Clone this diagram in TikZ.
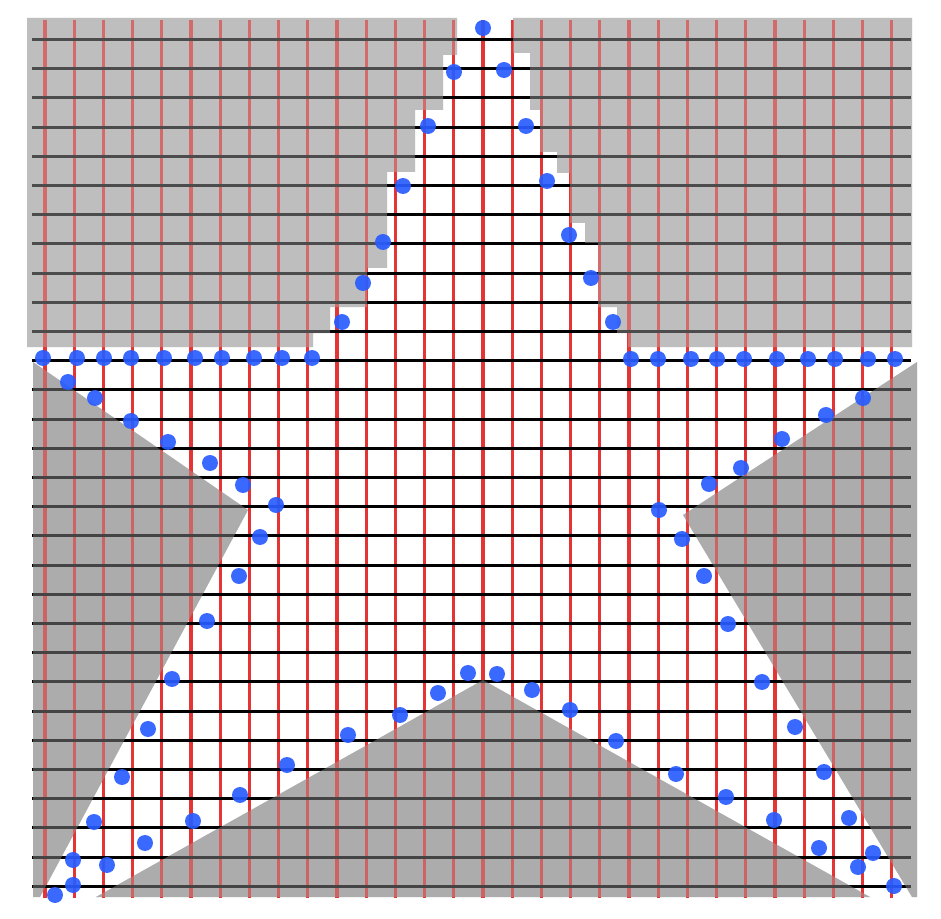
\documentclass[tikz,border=0pt]{standalone}
\usepackage{xcolor}
\usepackage{tikz}

\definecolor{upgray}{RGB}{190,190,190}
\definecolor{lowgray}{RGB}{172,172,172}
\definecolor{gridred}{RGB}{228,52,52}
\definecolor{dotblue}{RGB}{40,92,255}

% ground outside the star, in pixel units
\def\topleft{(27,18) -- (457,18) -- (457,55) -- (443,55) -- (443,110) -- (415,110) -- (415,172) -- (387,172) -- (387,268) -- (367,268) -- (367,307) -- (330,307) -- (330,333) -- (313,333) -- (313,347) -- (27,347) -- cycle}
\def\topright{(513,18) -- (912,18) -- (912,347) -- (628,347) -- (628,333) -- (617,333) -- (617,307) -- (598,307) -- (598,243) -- (585,243) -- (585,223) -- (570,223) -- (570,173) -- (557,173) -- (557,152) -- (540,152) -- (540,110) -- (530,110) -- (530,53) -- (513,53) -- cycle}
\def\armleft{(33,362) -- (248,510) -- (40,897) -- (33,897) -- cycle}
\def\legsmid{(96,897) -- (483,680) -- (870,897) -- cycle}
\def\armright{(917,362) -- (683,515) -- (912,897) -- (917,897) -- cycle}

\begin{document}
\begin{tikzpicture}[x=0.02cm, y=-0.02cm,
  vgrid/.style={gridred, line width=1.8pt},
  hgrid/.style={black, line width=1.6pt},
  dot/.style={fill=dotblue, fill opacity=0.92}]
\useasboundingbox (0,0) rectangle (941,919);

\fill[upgray] \topleft;
\fill[upgray] \topright;
\fill[lowgray] \armleft;
\fill[lowgray] \legsmid;
\fill[lowgray] \armright;

\foreach \i in {0,...,29}
  \draw[vgrid] ({45+29.2*\i},20) -- ({45+29.2*\i},898);
\foreach \j in {0,...,29}
  \draw[hgrid] (32,{39.5+29.2*\j}) -- (911,{39.5+29.2*\j});

% grid looks dimmer on the ground
\fill[upgray, opacity=0.4] \topleft;
\fill[upgray, opacity=0.4] \topright;
\fill[lowgray, opacity=0.4] \armleft;
\fill[lowgray, opacity=0.4] \legsmid;
\fill[lowgray, opacity=0.4] \armright;

\foreach \p in {(483,28),
  (454,72),(428,126),(403,186),(383,242),(363,283),(342,322),
  (504,70),(526,126),(547,181),(569,235),(591,278),(613,322),
  (43,358),(77,358),(104,358),(131,358),(164,358),(195,358),(222,358),(254,358),(282,358),(312,358),
  (631,359),(658,359),(691,359),(717,359),(744,359),(777,359),(808,359),(835,359),(868,359),(895,359),
  (68,382),(95,398),(131,421),(168,442),(210,463),(243,485),(276,505),
  (260,537),(239,576),(207,621),(172,679),(148,729),(122,777),(94,822),(73,860),(73,885),(55,895),
  (107,865),(145,843),(193,821),(240,795),(287,765),(348,735),(400,715),(438,693),(468,673),
  (497,674),(532,690),(570,710),(616,741),(676,774),(726,797),(774,820),(819,848),(858,867),(894,886),
  (659,510),(682,539),(704,576),(728,624),(762,682),(795,727),(824,772),(849,818),(873,853),
  (863,398),(826,415),(782,439),(741,468),(709,484)}
  \fill[dot] \p circle[radius=0.16cm];
\end{tikzpicture}
\end{document}
